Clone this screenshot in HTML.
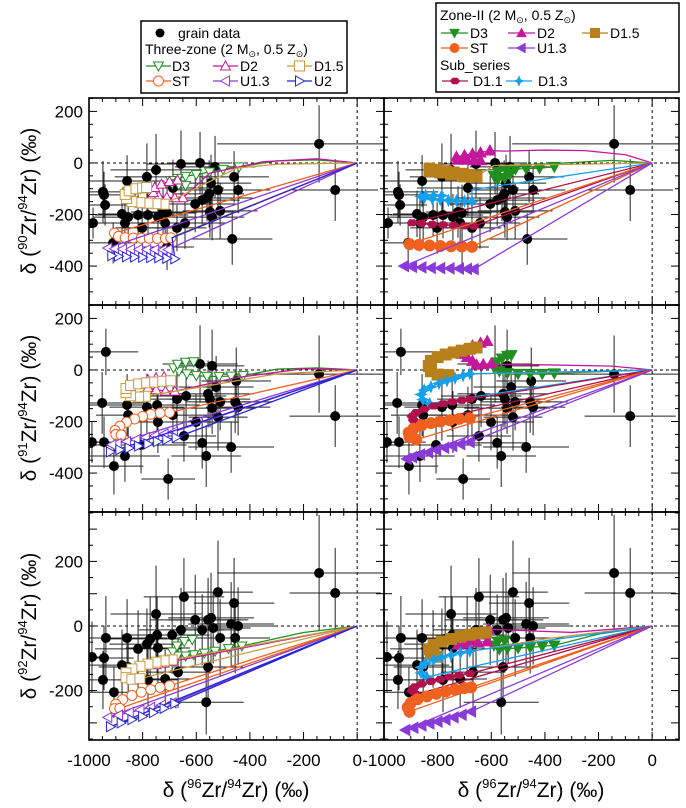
<!DOCTYPE html>
<html><head><meta charset="utf-8"><style>
html,body{margin:0;padding:0;background:#fff;}
svg{display:block;font-family:"Liberation Sans",Arial,sans-serif;}
</style></head><body>
<svg id="chart" width="686" height="808" viewBox="0 0 686 808" xmlns="http://www.w3.org/2000/svg">
<defs>
<clipPath id="c00"><rect x="89" y="98" width="295" height="207"/></clipPath>
<clipPath id="c01"><rect x="384" y="98" width="295" height="207"/></clipPath>
<clipPath id="c10"><rect x="89" y="305" width="295" height="207"/></clipPath>
<clipPath id="c11"><rect x="384" y="305" width="295" height="207"/></clipPath>
<clipPath id="c20"><rect x="89" y="512" width="295" height="228"/></clipPath>
<clipPath id="c21"><rect x="384" y="512" width="295" height="228"/></clipPath>
</defs>
<g id="plots"></g>
<g id="axes"></g>
<g id="legends"></g>
</svg>
<script>
// ---- grain data (per isotope panel) ----
const gx90 = [-985,-948,-944,-940,-858,-877,-866,-854,-817,-784,-780,-802,-750,-743,-724,-709,-716,-687,-657,-672,-642,-604,-586,-578,-560,-552,-549,-545,-541,-530,-519,-511,-459,-444,-466,-142,-82,-709,-910];
const gy90 = [-233,-112,-124,-163,-70,-198,-233,-210,-202,-54,-202,-252,-27,-210,-190,-194,-233,-97,-4,-252,-233,-159,0,-144,-136,-120,-190,-78,-210,-15,-105,-186,-54,-105,-295,74,-105,-326,-310];
const ex90 = [60,150,120,100,140,90,110,130,160,120,150,100,170,130,120,110,140,190,130,110,150,160,120,140,170,130,110,150,120,150,160,140,130,120,150,380,160,100,90];
const ey90 = [60,120,90,80,100,90,110,100,80,130,90,100,140,90,100,110,80,110,130,90,100,110,120,100,90,130,100,110,90,120,100,110,100,90,100,150,120,90,80];

const gx91 = [-937,-951,-989,-944,-907,-866,-858,-854,-806,-784,-746,-743,-705,-687,-672,-638,-646,-601,-586,-578,-563,-556,-549,-541,-541,-526,-511,-519,-470,-455,-444,-451,-142,-82];
const gy91 = [70,-128,-280,-280,-373,-334,-136,-175,-291,-144,-136,-202,-423,-175,-113,-101,-256,-202,23,-283,-334,-93,-113,16,-148,-66,-124,-183,-299,-124,-144,-43,-16,-179];
const ex91 = [120,160,60,100,110,130,150,120,170,140,160,120,100,180,130,150,120,160,140,110,130,170,150,120,160,140,130,110,160,140,120,130,380,170];
const ey91 = [90,120,80,100,110,100,120,90,110,130,100,120,80,110,140,120,100,110,150,100,120,130,110,140,100,120,110,130,100,120,110,130,150,120];

const gx92 = [-989,-944,-937,-948,-907,-877,-858,-854,-817,-784,-772,-750,-746,-743,-780,-716,-690,-668,-657,-646,-604,-578,-563,-556,-556,-545,-537,-519,-511,-470,-459,-455,-444,-142,-82];
const gy92 = [-96,-99,-37,-167,-205,-121,-37,-127,-71,-56,-40,37,-28,-68,-167,-164,-28,-143,-12,90,19,-12,-236,-127,19,25,-6,105,-37,6,71,-37,0,164,102];
const ex92 = [60,110,130,100,90,120,150,110,160,140,150,170,130,120,110,100,140,120,160,150,170,120,140,130,150,160,140,130,120,160,150,130,140,380,170];
const ey92 = [110,100,130,90,80,110,120,100,120,110,130,150,120,110,100,90,120,110,130,120,140,110,100,120,130,140,110,160,120,130,140,110,120,180,140];

// ---- Three-zone model tracks (left column); [x,y] pairs ----
const L90_D3 = [[0,0],[-150,12],[-300,8],[-440,-15],[-500,-25],[-550,-35],[-600,-45],[-640,-52],[-670,-60],[-695,-68],[-690,-80],[-665,-85],[-640,-88]];
const L90_D2 = [[0,0],[-150,16],[-350,5],[-550,-40],[-650,-135],[-680,-135],[-710,-133],[-740,-128],[-760,-115],[-755,-95],[-730,-82],[-700,-72],[-670,-66]];
const L90_D15 = [[0,0],[-300,-5],[-450,-20],[-720,-160],[-750,-158],[-780,-156],[-810,-154],[-840,-150],[-860,-138],[-865,-122],[-850,-108],[-825,-100],[-800,-97],[-785,-95]];
const L90_ST = [[0,0],[-905,-272],[-890,-285],[-865,-290],[-835,-291],[-805,-292],[-775,-292],[-745,-293],[-715,-293],[-695,-290]];
const L90_U13 = [[0,0],[-930,-330],[-905,-333],[-875,-334],[-845,-335],[-815,-335],[-785,-336],[-755,-336],[-725,-337],[-705,-336]];
const L90_U2 = [[0,0],[-690,-290],[-680,-372],[-710,-370],[-740,-368],[-770,-367],[-800,-366],[-830,-365],[-860,-364],[-890,-362],[-915,-360]];

const L91_D3 = [[0,0],[-150,8],[-300,3],[-425,-22],[-470,-24],[-515,-25],[-560,-25],[-600,-22],[-635,-15],[-665,-5],[-685,8],[-670,22],[-640,30],[-610,32]];
const L91_D2 = [[0,0],[-200,5],[-450,-30],[-680,-82],[-715,-82],[-750,-77],[-780,-68],[-795,-52],[-780,-38],[-750,-30],[-720,-26]];
const L91_D15 = [[0,0],[-300,-15],[-550,-60],[-790,-102],[-815,-105],[-845,-100],[-862,-88],[-862,-72],[-845,-60],[-815,-54],[-785,-50],[-755,-47],[-725,-44],[-695,-42]];
const L91_ST = [[0,0],[-700,-165],[-735,-167],[-770,-172],[-800,-180],[-830,-190],[-860,-203],[-885,-218],[-903,-235],[-900,-250],[-880,-252]];
const L91_U13 = [[0,0],[-685,-240],[-720,-248],[-755,-255],[-790,-262],[-825,-270],[-860,-278],[-895,-285],[-915,-290]];
const L91_U2 = [[0,0],[-675,-262],[-710,-270],[-745,-278],[-780,-287],[-815,-295],[-850,-303],[-885,-310],[-920,-318]];

const L92_D3 = [[0,0],[-200,-20],[-430,-62],[-480,-70],[-530,-78],[-570,-84],[-610,-89],[-640,-93],[-670,-93],[-688,-80],[-672,-62],[-645,-48],[-615,-42]];
const L92_D2 = [[0,0],[-690,-110],[-720,-115],[-750,-120]];
const L92_D15 = [[0,0],[-690,-105],[-720,-108],[-750,-112],[-780,-118],[-810,-125],[-840,-133],[-862,-145],[-862,-160],[-840,-165],[-810,-163]];
const L92_ST = [[0,0],[-700,-185],[-735,-190],[-770,-197],[-805,-205],[-840,-215],[-875,-228],[-900,-242],[-905,-256],[-885,-255]];
const L92_U13 = [[0,0],[-690,-238],[-730,-245],[-770,-252],[-810,-260],[-850,-268],[-890,-276],[-930,-283]];
const L92_U2 = [[0,0],[-680,-240],[-720,-255],[-760,-268],[-800,-280],[-840,-290],[-880,-300],[-920,-312]];

// ---- Zone-II model tracks (right column) ----
const R90_D3 = [[0,0],[-150,10],[-360,-2],[-365,-15],[-420,-20],[-470,-22],[-510,-24],[-545,-28],[-575,-35],[-590,-50],[-575,-62],[-550,-58],[-530,-45]];
const R90_D2 = [[0,0],[-100,32],[-250,48],[-400,50],[-550,46],[-605,48],[-640,40],[-670,36],[-700,30],[-730,24],[-725,12],[-695,12],[-665,10],[-640,10]];
const R90_D15 = [[0,0],[-590,-10],[-655,-52],[-680,-47],[-710,-42],[-740,-37],[-770,-32],[-800,-27],[-830,-22],[-830,-32],[-790,-37],[-750,-45],[-700,-52]];
const R90_D13 = [[0,0],[-672,-104],[-672,-150],[-700,-148],[-730,-146],[-760,-145],[-790,-143],[-820,-140],[-850,-135],[-862,-130],[-845,-126],[-815,-126],[-785,-127]];
const R90_D11 = [[0,0],[-895,-232],[-860,-235],[-820,-238],[-780,-240],[-740,-242],[-700,-244],[-665,-245]];
const R90_ST = [[0,0],[-905,-315],[-870,-318],[-830,-320],[-790,-322],[-750,-323],[-710,-324],[-672,-325]];
const R90_U13 = [[0,0],[-925,-400],[-895,-403],[-860,-405],[-825,-407],[-790,-408],[-755,-409],[-720,-410],[-690,-411],[-665,-412]];

const R91_D3 = [[0,0],[-150,-5],[-365,-13],[-410,-15],[-455,-15],[-500,-15],[-540,-12],[-570,-5],[-590,10],[-580,30],[-560,45],[-540,55],[-525,58]];
const R91_D2 = [[0,0],[-150,15],[-400,20],[-590,22],[-600,25],[-630,22],[-655,20],[-670,35],[-690,50],[-710,62],[-700,80],[-670,95],[-640,105],[-615,112]];
const R91_D15 = [[0,0],[-400,-10],[-650,-15],[-760,-20],[-800,-18],[-825,-5],[-833,15],[-825,35],[-800,50],[-770,60],[-740,68],[-710,75],[-680,82],[-655,87]];
const R91_D13 = [[0,0],[-830,-130],[-855,-115],[-862,-95],[-850,-78],[-825,-65],[-795,-52],[-765,-42],[-735,-32],[-705,-22],[-680,-15]];
const R91_D11 = [[0,0],[-860,-205],[-890,-195],[-895,-180],[-880,-165],[-850,-152],[-815,-140],[-780,-131],[-745,-124],[-710,-118],[-680,-113]];
const R91_ST = [[0,0],[-880,-270],[-905,-260],[-908,-243],[-890,-228],[-860,-215],[-825,-206],[-790,-200],[-755,-195],[-720,-190],[-680,-188]];
const R91_U13 = [[0,0],[-915,-345],[-895,-338],[-865,-328],[-835,-320],[-805,-310],[-775,-302],[-745,-295],[-715,-288],[-680,-280]];

const R92_D3 = [[0,0],[-200,-25],[-365,-60],[-410,-63],[-455,-66],[-500,-68],[-540,-70],[-570,-72],[-590,-60],[-575,-48],[-550,-45]];
const R92_D2 = [[0,0],[-300,-20],[-610,-10],[-640,-25],[-670,-40],[-700,-52],[-725,-58],[-690,-55],[-650,-50],[-615,-48]];
const R92_D15 = [[0,0],[-400,-40],[-800,-95],[-825,-88],[-832,-72],[-815,-58],[-785,-48],[-750,-40],[-715,-33],[-680,-27],[-650,-22],[-620,-20]];
const R92_D13 = [[0,0],[-840,-158],[-862,-145],[-862,-128],[-845,-115],[-815,-105],[-785,-97],[-750,-90],[-715,-83],[-680,-78]];
const R92_D11 = [[0,0],[-880,-212],[-895,-200],[-885,-188],[-860,-180],[-825,-172],[-790,-165],[-755,-158],[-720,-152],[-680,-147]];
const R92_ST = [[0,0],[-905,-265],[-912,-252],[-900,-238],[-875,-227],[-840,-218],[-805,-210],[-770,-203],[-735,-197],[-700,-192],[-675,-190]];
const R92_U13 = [[0,0],[-920,-322],[-890,-315],[-860,-308],[-830,-302],[-800,-296],[-770,-290],[-740,-283],[-710,-275],[-675,-265]];

const xTicks = [-1000,-800,-600,-400,-200,0];
const yTicksTop = [200,0,-200,-400];
const yTicksBot = [200,0,-200];

const NS = 'http://www.w3.org/2000/svg';
const STY = {
  D3:{c:'#1f8f1f',s:'tdown'}, D2:{c:'#c4189c',s:'tup'}, D15:{c:'#c89a40',cf:'#b8801a',s:'square'},
  ST:{c:'#f0601e',s:'circle'}, U13:{c:'#8a3ad8',s:'tleft'}, U2:{c:'#2626d6',s:'tright'},
  D11:{c:'#b0104c',s:'hex'}, D13:{c:'#14a0f0',s:'star'}
};
const ROWS = [{t:98,b:305,lo:-551,hi:252},{t:305,b:512,lo:-551,hi:252},{t:512,b:740,lo:-353,hi:353}];
const COLS = [{l:89,r:384},{l:384,r:679}];
const XLO=-1000, XHI=100;
function sx(col,x){const c=COLS[col];return c.l+(x-XLO)/(XHI-XLO)*(c.r-c.l);}
function sy(row,y){const r=ROWS[row];return r.b-(y-r.lo)/(r.hi-r.lo)*(r.b-r.t);}
function el(tag,attrs,parent){const e=document.createElementNS(NS,tag);for(const k in attrs)e.setAttribute(k,attrs[k]);parent.appendChild(e);return e;}

function marker(g,shape,cx,cy,sz,stroke,fill){
  const h=sz/2;let e;
  if(shape==='circle'){e=el('circle',{cx:cx,cy:cy,r:h,stroke:stroke,fill:fill,'stroke-width':1},g);}
  else if(shape==='square'){e=el('rect',{x:cx-h,y:cy-h,width:sz,height:sz,stroke:stroke,fill:fill,'stroke-width':1},g);}
  else{
    let p;
    if(shape==='tdown')p=[[cx-h,cy-h*0.8],[cx+h,cy-h*0.8],[cx,cy+h]];
    else if(shape==='tup')p=[[cx-h,cy+h*0.8],[cx+h,cy+h*0.8],[cx,cy-h]];
    else if(shape==='tleft')p=[[cx+h*0.8,cy-h],[cx+h*0.8,cy+h],[cx-h,cy]];
    else if(shape==='tright')p=[[cx-h*0.8,cy-h],[cx-h*0.8,cy+h],[cx+h,cy]];
    else if(shape==='hex')p=[[cx-h,cy],[cx-h*0.5,cy-h*0.6],[cx+h*0.5,cy-h*0.6],[cx+h,cy],[cx+h*0.5,cy+h*0.6],[cx-h*0.5,cy+h*0.6]];
    else p=[[cx,cy-h],[cx+h*0.3,cy-h*0.3],[cx+h,cy],[cx+h*0.3,cy+h*0.3],[cx,cy+h],[cx-h*0.3,cy+h*0.3],[cx-h,cy],[cx-h*0.3,cy-h*0.3]];
    e=el('polygon',{points:p.map(q=>q.join(',')).join(' '),stroke:stroke,fill:fill,'stroke-width':1},g);
  }
  return e;
}

const plots=document.getElementById('plots');
const grains=[[gx90,gy90,ex90,ey90],[gx91,gy91,ex91,ey91],[gx92,gy92,ex92,ey92]];
const rowNames=['zr90','zr91','zr92'];
const LEFT=[[['D3',L90_D3,3,0],['D2',L90_D2,4,0],['D15',L90_D15,3,0],['ST',L90_ST,1,1],['U13',L90_U13,1,1],['U2',L90_U2,2,0]],
            [['D3',L91_D3,3,0],['D2',L91_D2,3,0],['D15',L91_D15,3,0],['ST',L91_ST,1,0],['U13',L91_U13,1,1],['U2',L91_U2,1,1]],
            [['D3',L92_D3,2,0],['D2',L92_D2,1,0],['D15',L92_D15,1,1],['ST',L92_ST,1,1],['U13',L92_U13,1,1],['U2',L92_U2,1,1]]];
const RIGHT=[[['D3',R90_D3,3,0],['D2',R90_D2,5,0],['D15',R90_D15,2,0],['D13',R90_D13,2,0],['D11',R90_D11,1,1],['ST',R90_ST,1,1],['U13',R90_U13,1,1]],
             [['D3',R91_D3,2,0],['D2',R91_D2,4,0],['D15',R91_D15,3,0],['D13',R91_D13,1,1],['D11',R91_D11,1,1],['ST',R91_ST,1,1],['U13',R91_U13,1,1]],
             [['D3',R92_D3,2,0],['D2',R92_D2,2,0],['D15',R92_D15,2,0],['D13',R92_D13,1,1],['D11',R92_D11,1,1],['ST',R92_ST,1,1],['U13',R92_U13,1,1]]];

for(let r=0;r<3;r++){
  for(let c=0;c<2;c++){
    const g=el('g',{'clip-path':'url(#c'+r+c+')'},plots);
    
    
    const zh=el('line',{x1:COLS[c].l,x2:COLS[c].r,y1:sy(r,0),y2:sy(r,0),stroke:'#000','stroke-width':1,'stroke-dasharray':'3,3'},g);
    
    
    const zv=el('line',{x1:sx(c,0),x2:sx(c,0),y1:ROWS[r].t,y2:ROWS[r].b,stroke:'#000','stroke-width':1,'stroke-dasharray':'3,3'},g);
    
    
    const [gx,gy,ex,ey]=grains[r];
    const gg=el('g',{},g);
    
    
    for(let i=0;i<gx.length;i++){
      const X=sx(c,gx[i]),Y=sy(r,gy[i]);
      const eb1=el('line',{x1:sx(c,gx[i]-ex[i]),x2:sx(c,gx[i]+ex[i]),y1:Y,y2:Y,stroke:'#222','stroke-width':1},gg);
      
      
      const eb2=el('line',{x1:X,x2:X,y1:sy(r,gy[i]-ey[i]),y2:sy(r,gy[i]+ey[i]),stroke:'#222','stroke-width':1},gg);
      
      
    }
    for(let i=0;i<gx.length;i++){
      const d=el('circle',{cx:sx(c,gx[i]),cy:sy(r,gy[i]),r:5,fill:'#000'},gg);
      
      
    }
    const list=c===0?LEFT[r]:RIGHT[r];
    for(const [key,pts,lead,close] of list){
      const st=STY[key];
      const sg=el('g',{},g);
      
      
      const seq=pts.slice();
      if(close)seq.push(pts[0]);
      const line=el('polyline',{points:seq.map(p=>sx(c,p[0])+','+sy(r,p[1])).join(' '),fill:'none',stroke:st.c,'stroke-width':1.3},sg);
      
      
      for(let i=lead;i<pts.length;i++){
        const fillc=c===0?'#fff':(st.cf||st.c);
        const strokec=c===0?st.c:(st.cf||st.c);
        const m=marker(sg,st.s,sx(c,pts[i][0]),sy(r,pts[i][1]),c===0?10:(st.s==='hex'?10:11),strokec,fillc);
        
        
      }
    }
  }
}

const axes=document.getElementById('axes');
for(let r=0;r<3;r++){
  for(let c=0;c<2;c++){
    const L=COLS[c].l,R=COLS[c].r,T=ROWS[r].t,B=ROWS[r].b;
    const fr=el('rect',{x:L,y:T,width:R-L,height:B-T,fill:'none',stroke:'#000','stroke-width':1.6},axes);
    
    
    for(let v=-1000;v<=100;v+=50){
      const X=sx(c,v),len=(v%200===0)?8:4;
      el('line',{x1:X,x2:X,y1:T,y2:T+len,stroke:'#000','stroke-width':1},axes);
      el('line',{x1:X,x2:X,y1:B,y2:B-len,stroke:'#000','stroke-width':1},axes);
    }
    const step=50;
    for(let v=Math.ceil(ROWS[r].lo/step)*step;v<=ROWS[r].hi;v+=step){
      const Y=sy(r,v),len=(r===2?(v%100===0):(v%200===0))?8:4;
      el('line',{x1:L,x2:L+len,y1:Y,y2:Y,stroke:'#000','stroke-width':1},axes);
      el('line',{x1:R,x2:R-len,y1:Y,y2:Y,stroke:'#000','stroke-width':1},axes);
    }
    if(c===0){
      const yt=r===2?yTicksBot:yTicksTop;
      for(const v of yt){
        const t=el('text',{x:83,y:sy(r,v)+6,'text-anchor':'end','font-size':17},axes);
        t.textContent=String(v);
        
        
      }
    }
  }
}
for(let c=0;c<2;c++){
  for(const v of xTicks){
    const t=el('text',{x:sx(c,v),y:766,'text-anchor':'middle','font-size':17},axes);
    t.textContent=String(v);
    
    
  }
}
function isoTitle(parent,x,y,rot,num,name){
  const t=el('text',{x:x,y:y,'text-anchor':'middle','font-size':21},parent);
  if(rot)t.setAttribute('transform','rotate(-90 '+x+' '+y+')');
  t.innerHTML='δ (<tspan font-size="13" dy="-9">'+num+'</tspan><tspan dy="9">Zr/</tspan><tspan font-size="13" dy="-9">94</tspan><tspan dy="9">Zr) (‰)</tspan>';
  
  
}
isoTitle(axes,36,201,true,'90','y-axis-title-zr90');
isoTitle(axes,36,408,true,'91','y-axis-title-zr91');
isoTitle(axes,36,626,true,'92','y-axis-title-zr92');
isoTitle(axes,236,797,false,'96','x-axis-title-left');
isoTitle(axes,531,797,false,'96','x-axis-title-right');

const lg=document.getElementById('legends');
function legendBox(x,y,w,h,name){const b=el('rect',{x:x,y:y,width:w,height:h,fill:'#fff',stroke:'#000','stroke-width':1.5},lg);}
function ltext(x,y,html,name){const t=el('text',{x:x,y:y,'font-size':14},lg);t.innerHTML=html;}
function lentry(x1,x2,y,key,filled,label,tx){
  const st=STY[key];const col=filled?(st.cf||st.c):st.c;
  const g=el('g',{},lg);
  
  
  el('line',{x1:x1,x2:x2,y1:y,y2:y,stroke:col,'stroke-width':1.3},g);
  marker(g,st.s,(x1+x2)/2,y,filled?9:10,col,filled?col:'#fff');
  const t=el('text',{x:tx,y:y+5,'font-size':14},g);t.textContent=label;
}
const sun='<tspan font-size="9" dy="3">⊙</tspan><tspan dy="-3">';
legendBox(141,21,206,72,'legend-three-zone');
el('circle',{cx:160,cy:33,r:4.5,fill:'#000'},lg);
ltext(178,38,'grain data','legend-grain-data');
ltext(145,54,'Three-zone (2 M'+sun+', 0.5 Z</tspan>'+sun+')</tspan>','legend-three-zone-title');
lentry(146,171,66,'D3',false,'D3',172);
lentry(213,238,66,'D2',false,'D2',240);
lentry(287,312,66,'D15',false,'D1.5',314);
lentry(146,171,81,'ST',false,'ST',172);
lentry(213,238,81,'U13',false,'U1.3',240);
lentry(287,312,81,'U2',false,'U2',314);

legendBox(436,3,243,89,'legend-zone-ii');
ltext(440,20,'Zone-II (2 M'+sun+', 0.5 Z</tspan>'+sun+')</tspan>','legend-zone-ii-title');
lentry(441,468,33,'D3',true,'D3',470);
lentry(508,535,33,'D2',true,'D2',537);
lentry(582,608,33,'D15',true,'D1.5',610);
lentry(441,468,48,'ST',true,'ST',470);
lentry(508,535,48,'U13',true,'U1.3',537);
ltext(440,70,'Sub_series','legend-sub-series-title');
lentry(442,468,81,'D11',true,'D1.1',473);
lentry(506,532,81,'D13',true,'D1.3',538);
</script>
</body></html>
